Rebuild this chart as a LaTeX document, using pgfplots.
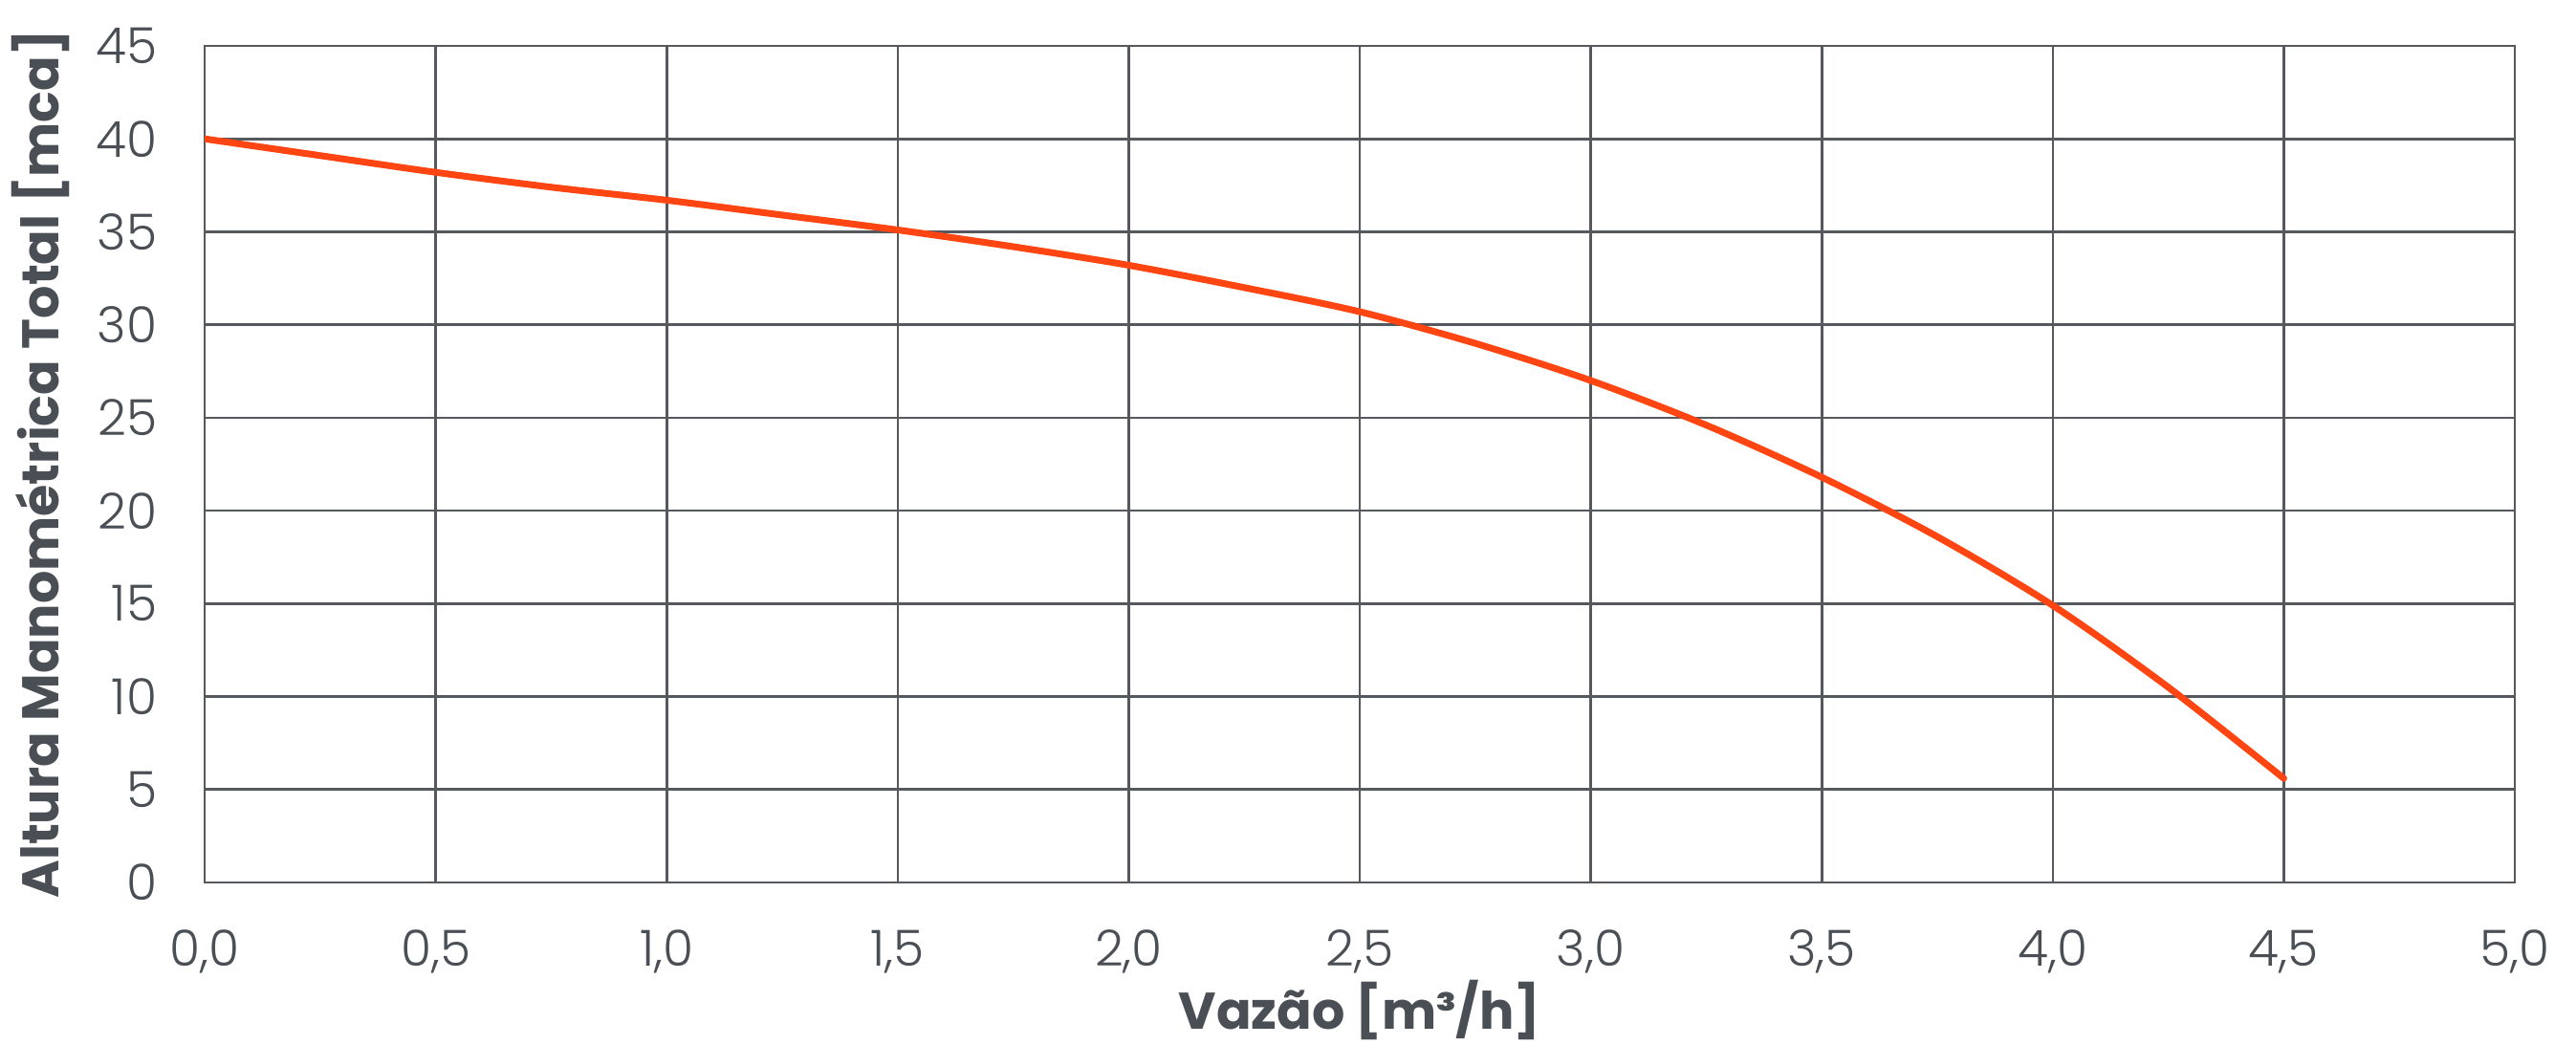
\documentclass[border=0pt]{standalone}
\usepackage{fontspec}
\setmainfont{Poppins}[UprightFont={* Light}, BoldFont={* Bold}]
\usepackage{pgfplots}
\pgfplotsset{compat=1.18}

\definecolor{texto}{HTML}{4A4F55}
\definecolor{grade}{HTML}{55595E}
\definecolor{curva}{HTML}{FF4612}

\begin{document}
\begin{tikzpicture}
    \begin{axis}[
        scale only axis,
        width=604pt, height=218.75pt,      % caixa do grafico
        xmin=0, xmax=5, ymin=0, ymax=45,
        xtick={0,0.5,...,5}, ytick={0,5,...,45},
        grid=major,
        major grid style={grade, line width=0.65pt},
        axis line style={grade, line width=0.65pt},
        major tick length=0pt,
        tick label style={font=\fontsize{13}{15}\selectfont, text=texto},
        xticklabel style={inner sep=0pt, yshift=-12.25pt,
            /pgf/number format/.cd, fixed, fixed zerofill, precision=1, use comma},
        yticklabel style={inner sep=0pt, xshift=-12.25pt},
        /pgf/number format/assume math mode=true,
        xlabel={Vazão [m³/h]},
        ylabel={Altura Manométrica Total [mca]},
        label style={font=\bfseries\fontsize{13.5}{16}\selectfont, text=texto, inner sep=0pt},
        xlabel style={at={(axis description cs:0.5,0)}, anchor=base, yshift=-38.3pt},
        ylabel style={at={(axis description cs:0,0.5)}, anchor=base, yshift=38pt},
    ]

    % curva da bomba: vazao (m3/h) x altura (mca)
    \addplot [curva, line width=1.75pt, smooth, line cap=round] coordinates {
        (0.00, 40.0)
        (0.25, 39.1)
        (0.50, 38.2)
        (0.75, 37.4)
        (1.00, 36.7)
        (1.25, 35.9)
        (1.50, 35.1)
        (1.75, 34.2)
        (2.00, 33.2)
        (2.25, 32.0)
        (2.50, 30.7)
        (2.75, 29.0)
        (3.00, 27.0)
        (3.25, 24.6)
        (3.50, 21.8)
        (3.75, 18.6)
        (4.00, 14.9)
        (4.25, 10.5)
        (4.50, 5.6)
    };

    \end{axis}
    % moldura da pagina (2694 x 1092 px a 0.25pt/px)
    \pgfresetboundingbox
    \useasboundingbox (-53.5pt,-42.25pt) rectangle (620pt,230.75pt);
\end{tikzpicture}
\end{document}
